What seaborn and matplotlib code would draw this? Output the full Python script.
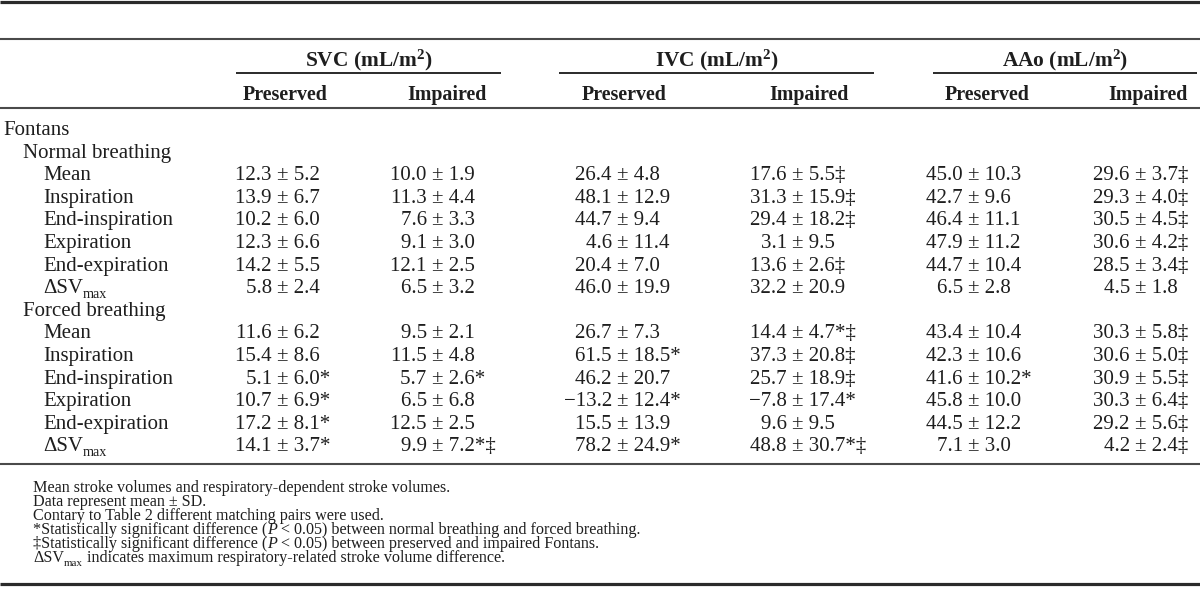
import matplotlib
matplotlib.use('Agg')
import matplotlib.pyplot as plt
import seaborn as sns

# Tabel stroke volume Fontan (mean ± SD)
groups = ["SVC", "IVC", "AAo"]
group_unit = r" (mL/m$^{\mathbf{2}}$)"
subheads = ["Preserved", "Impaired"]

# label baris; "ΔSV|max" = ΔSV dengan subscript max
row_labels = ["Fontans", "Normal breathing", "Mean", "Inspiration", "End-inspiration",
              "Expiration", "End-expiration", "ΔSV|max", "Forced breathing",
              "Mean", "Inspiration", "End-inspiration", "Expiration", "End-expiration",
              "ΔSV|max"]
row_levels = [0, 1, 2, 2, 2, 2, 2, 2, 1, 2, 2, 2, 2, 2, 2]
# baris yang punya angka (index di row_labels)
data_rows = [2, 3, 4, 5, 6, 7, 9, 10, 11, 12, 13, 14]

svc_pres_mean = [12.3, 13.9, 10.2, 12.3, 14.2, 5.8, 11.6, 15.4, 5.1, 10.7, 17.2, 14.1]
svc_pres_sd = [5.2, 6.7, 6.0, 6.6, 5.5, 2.4, 6.2, 8.6, 6.0, 6.9, 8.1, 3.7]
svc_pres_mark = ["", "", "", "", "", "", "", "", "*", "*", "*", "*"]

svc_imp_mean = [10.0, 11.3, 7.6, 9.1, 12.1, 6.5, 9.5, 11.5, 5.7, 6.5, 12.5, 9.9]
svc_imp_sd = [1.9, 4.4, 3.3, 3.0, 2.5, 3.2, 2.1, 4.8, 2.6, 6.8, 2.5, 7.2]
svc_imp_mark = ["", "", "", "", "", "", "", "", "*", "", "", "*‡"]

ivc_pres_mean = [26.4, 48.1, 44.7, 4.6, 20.4, 46.0, 26.7, 61.5, 46.2, -13.2, 15.5, 78.2]
ivc_pres_sd = [4.8, 12.9, 9.4, 11.4, 7.0, 19.9, 7.3, 18.5, 20.7, 12.4, 13.9, 24.9]
ivc_pres_mark = ["", "", "", "", "", "", "", "*", "", "*", "", "*"]

ivc_imp_mean = [17.6, 31.3, 29.4, 3.1, 13.6, 32.2, 14.4, 37.3, 25.7, -7.8, 9.6, 48.8]
ivc_imp_sd = [5.5, 15.9, 18.2, 9.5, 2.6, 20.9, 4.7, 20.8, 18.9, 17.4, 9.5, 30.7]
ivc_imp_mark = ["‡", "‡", "‡", "", "‡", "", "*‡", "‡", "‡", "*", "", "*‡"]

aao_pres_mean = [45.0, 42.7, 46.4, 47.9, 44.7, 6.5, 43.4, 42.3, 41.6, 45.8, 44.5, 7.1]
aao_pres_sd = [10.3, 9.6, 11.1, 11.2, 10.4, 2.8, 10.4, 10.6, 10.2, 10.0, 12.2, 3.0]
aao_pres_mark = ["", "", "", "", "", "", "", "", "*", "", "", ""]

aao_imp_mean = [29.6, 29.3, 30.5, 30.6, 28.5, 4.5, 30.3, 30.6, 30.9, 30.3, 29.2, 4.2]
aao_imp_sd = [3.7, 4.0, 4.5, 4.2, 3.4, 1.8, 5.8, 5.0, 5.5, 6.4, 5.6, 2.4]
aao_imp_mark = ["‡", "‡", "‡", "‡", "‡", "", "‡", "‡", "‡", "‡", "‡", "‡"]

# catatan kaki: potongan (teks, gaya) -> 'n' normal, 'i' italic, 's' subscript
notes = [
    [("Mean stroke volumes and respiratory-dependent stroke volumes.", 'n')],
    [("Data represent mean ± SD.", 'n')],
    [("Contary to Table 2 different matching pairs were used.", 'n')],
    [("*Statistically significant difference (", 'n'), ("P", 'i'),
     (" < 0.05) between normal breathing and forced breathing.", 'n')],
    [("‡Statistically significant difference (", 'n'), ("P", 'i'),
     (" < 0.05) between preserved and impaired Fontans.", 'n')],
    [("ΔSV", 'n'), ("max", 's'),
     (" indicates maximum respiratory-related stroke volume difference.", 'n')],
]

columns = [
    (svc_pres_mean, svc_pres_sd, svc_pres_mark),
    (svc_imp_mean, svc_imp_sd, svc_imp_mark),
    (ivc_pres_mean, ivc_pres_sd, ivc_pres_mark),
    (ivc_imp_mean, ivc_imp_sd, ivc_imp_mark),
    (aao_pres_mean, aao_pres_sd, aao_pres_mark),
    (aao_imp_mean, aao_imp_sd, aao_imp_mark),
]

# layout (pixel, y dari atas)
pm_x = [277, 432, 617, 792, 968, 1135]          # posisi tanda ±
sub_x = [285, 447, 624, 809, 987, 1148]          # tengah Preserved/Impaired
group_span = [(236, 501), (559, 874), (933, 1197)]
indent_x = [3, 23, 43]
row_y0, row_dy = 128, 22.6
note_y0, note_dy = 487, 14

sns.set_theme(style='white')
plt.rcParams['font.family'] = ['Liberation Serif', 'DejaVu Serif']
plt.rcParams['mathtext.fontset'] = 'custom'
plt.rcParams['mathtext.rm'] = 'Liberation Serif'
plt.rcParams['mathtext.bf'] = 'Liberation Serif:bold'
plt.rcParams['mathtext.it'] = 'Liberation Serif:italic'

ink = '#1e1e1e'
fs = 15
fs_note = 11.6

fig = plt.figure(figsize=(12, 6.13), dpi=100)
ax = fig.add_axes([0, 0, 1, 1])
ax.set_xlim(0, 1200)
ax.set_ylim(613, 0)
ax.axis('off')
renderer = fig.canvas.get_renderer()


def draw_runs(x, y, runs, size, sub_dy):
    # tulis potongan teks berurutan, subscript lebih kecil dan turun
    for txt, style in runs:
        kw = dict(fontsize=size, color=ink, ha='left', va='baseline')
        yy = y
        if style == 'i':
            kw['fontstyle'] = 'italic'
        elif style == 's':
            kw['fontsize'] = size * 0.68
            yy = y + sub_dy
        t = ax.text(x, yy, txt, **kw)
        bb = t.get_window_extent(renderer=renderer)
        x = ax.transData.inverted().transform((bb.x1, bb.y0))[0]


# garis tabel
ax.hlines([2, 584], 0, 1200, color='#2a2a2a', lw=2.3)
ax.hlines([39, 107.5, 464], 0, 1200, color='#4a4a4a', lw=1.5)
for (x0, x1), name in zip(group_span, groups):
    ax.hlines(72.5, x0, x1, color='#2a2a2a', lw=1.4)
    ax.text((x0 + x1) / 2, 66, name + group_unit, ha='center', va='baseline',
            fontsize=15.4, fontweight='bold', color=ink)

for i, x in enumerate(sub_x):
    ax.text(x, 100, subheads[i % 2], ha='center', va='baseline',
            fontsize=14.4, fontweight='bold', color=ink)

# label baris
for i, (lab, lvl) in enumerate(zip(row_labels, row_levels)):
    y = row_y0 + row_dy * i + 7
    if '|' in lab:
        base, sub = lab.split('|')
        draw_runs(indent_x[lvl], y, [(base, 'n'), (sub, 's')], fs, 5)
    else:
        ax.text(indent_x[lvl], y, lab, ha='left', va='baseline', fontsize=fs, color=ink)

# nilai, rata di tanda ±
for c, (means, sds, marks) in enumerate(columns):
    for k, r in enumerate(data_rows):
        y = row_y0 + row_dy * r + 7
        m = means[k]
        left = (f"\u2212{abs(m):.1f} " if m < 0 else f"{m:.1f} ")
        ax.text(pm_x[c], y, left, ha='right', va='baseline', fontsize=fs, color=ink)
        ax.text(pm_x[c], y, f"± {sds[k]:.1f}{marks[k]}", ha='left', va='baseline',
                fontsize=fs, color=ink)

# catatan kaki
for i, runs in enumerate(notes):
    draw_runs(33, note_y0 + note_dy * i + 5, runs, fs_note, 4)

fig.savefig('out.png', dpi=100)
plt.close(fig)
